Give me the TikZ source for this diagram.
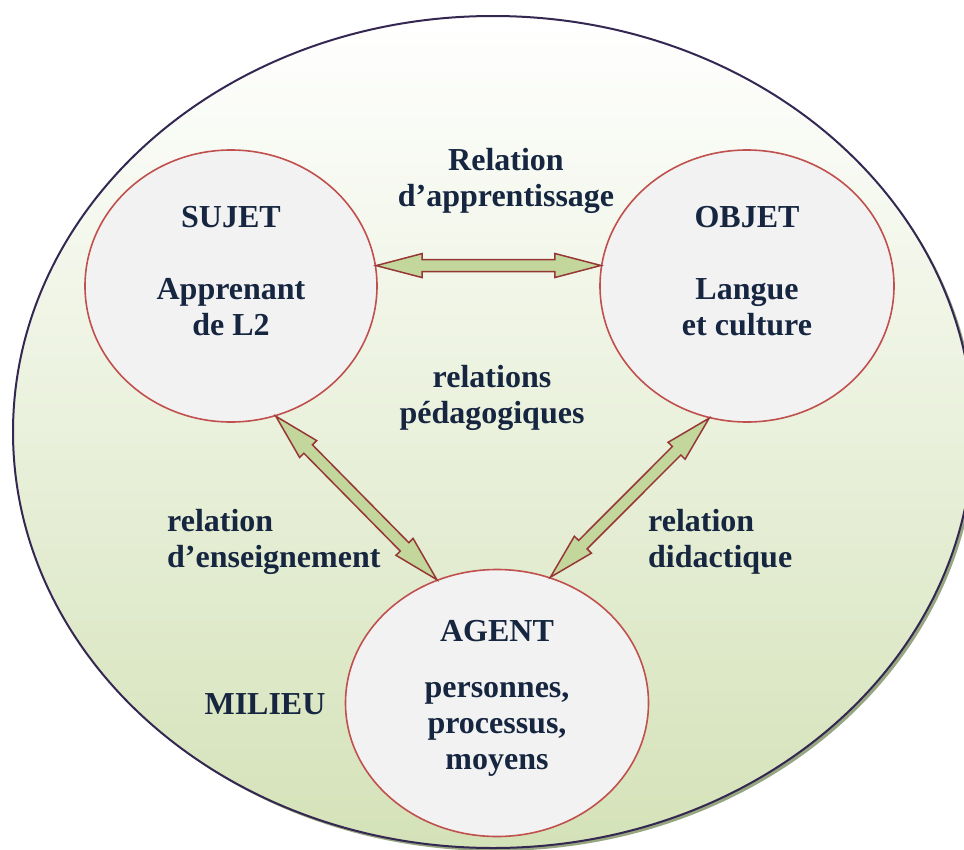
\documentclass[tikz,border=0pt]{standalone}
\usepackage{fontspec}
\setmainfont{Liberation Serif}
\usetikzlibrary{calc,shapes.geometric}

\definecolor{navy}{RGB}{22,38,64}
\definecolor{bubblegray}{RGB}{242,242,242}
\definecolor{bubblered}{RGB}{192,80,77}
\definecolor{milieugreen}{RGB}{212,226,184}
\definecolor{milieumid}{RGB}{234,240,220}
\definecolor{milieuline}{RGB}{52,40,82}
\definecolor{shadowgreen}{RGB}{150,166,128}
\definecolor{arrowgreen}{RGB}{195,214,155}
\definecolor{arrowred}{RGB}{150,55,53}

% block arrow with two heads between two anchors
\newcommand{\fatarrow}[2]{%
  \coordinate (fa1) at ($(#1)!46pt!(#2)$);
  \coordinate (fa2) at ($(#2)!46pt!(#1)$);
  \draw [line width=1.5pt, fill=arrowgreen, draw=arrowred, line join=miter]
    (#1) -- ($(fa1)!12pt!90:(#2)$) -- ($(fa1)!6pt!90:(#2)$)
    -- ($(fa2)!6pt!-90:(#1)$) -- ($(fa2)!12pt!-90:(#1)$) -- (#2)
    -- ($(fa2)!12pt!90:(#1)$) -- ($(fa2)!6pt!90:(#1)$)
    -- ($(fa1)!6pt!-90:(#2)$) -- ($(fa1)!12pt!-90:(#2)$) -- cycle;
}

\begin{document}
\begin{tikzpicture}
[x=1pt, y=-1pt, every node/.style={inner sep=0pt},
 bubble/.style={ellipse, fill=bubblegray, draw=bubblered, line width=1.6pt},
 words/.style={font=\bfseries\fontsize{32}{36}\selectfont, text=navy, align=center}]
\useasboundingbox (0,0) rectangle (964,849);
% milieu
\fill [shadowgreen] (496,435) ellipse [x radius=480pt, y radius=416pt];
\draw [draw=milieuline, line width=2pt, top color=white, middle color=milieumid, bottom color=milieugreen] (493,432) ellipse [x radius=480pt, y radius=416pt];
\node (milieu) [words] at (265, 704) {MILIEU};
% the three poles
\node (sujet) [bubble, minimum width=292pt, minimum height=272pt] at (231, 286) {};
\node (objet) [bubble, minimum width=294pt, minimum height=272pt] at (747, 286) {};
\node (agent) [bubble, minimum width=303pt, minimum height=267pt] at (497, 703) {};
\node (sujettext) [words] at (231, 271) {SUJET\\[36pt]Apprenant\\de L2};
\node (objettext) [words] at (747, 271) {OBJET\\[36pt]Langue\\et culture};
\node (agenttext) [words] at (497, 698) {AGENT\\[20pt]personnes,\\processus,\\moyens};
% relations
\node (apprent) [words] at (506, 181) {Relation\\d’apprentissage};
\node (pedago) [words] at (492, 398) {relations\\pédagogiques};
\node (enseign) [words, align=left, anchor=west] at (167, 542) {relation\\d’enseignement};
\node (didact) [words, align=left, anchor=west] at (648, 542) {relation\\didactique};
\fatarrow{sujet.8}{objet.172}
\fatarrow{sujet.289}{agent.116}
\fatarrow{objet.254}{agent.67}
\end{tikzpicture}
\end{document}
